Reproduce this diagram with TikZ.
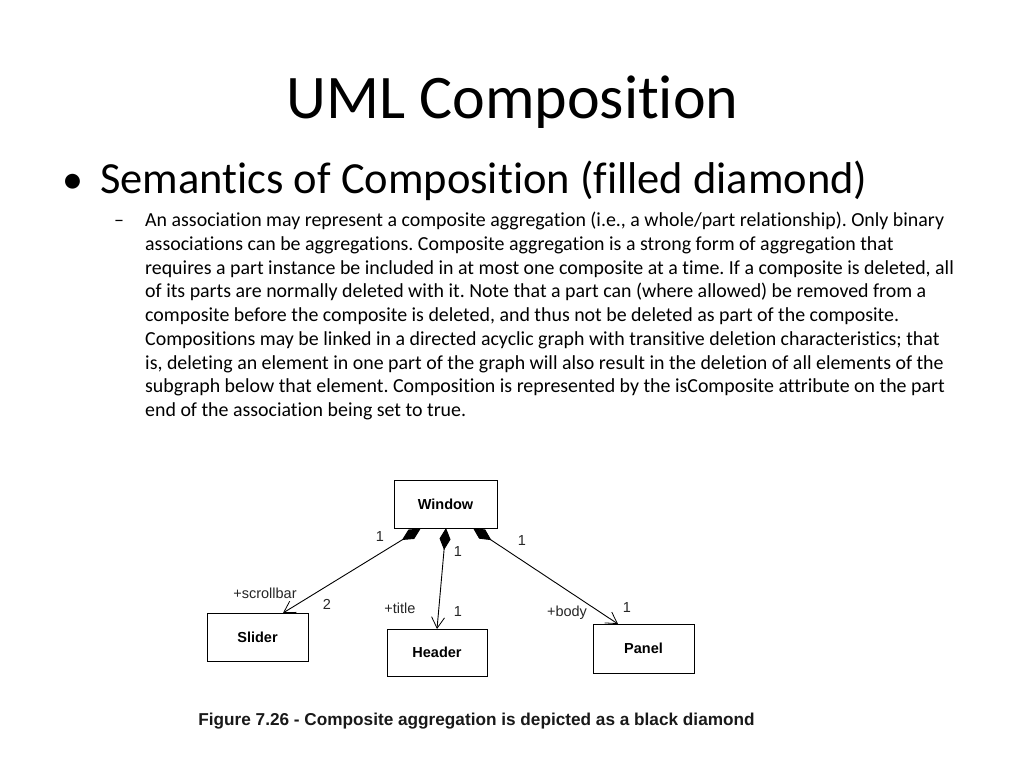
\documentclass[tikz,border=0pt]{standalone}
\usepackage{fontspec}
\setmainfont{Carlito}[Ligatures={NoCommon,NoContextual}, Contextuals=NoAlternate]
\newfontfamily\arialf{Liberation Sans}
\usetikzlibrary{arrows.meta}
\frenchspacing
\tikzset{
  umlbox/.style={draw=black, line width=1pt, fill=white, inner sep=0pt},
  comp/.style={draw=black, line width=0.9pt,
    {Diamond[length=22pt,width=11pt,fill=black]}-{Straight Barb[length=11pt,width=13pt,line width=0.8pt]}},
  lbl/.style={font=\arialf\fontsize{14.5}{16}\selectfont, inner sep=0pt, text=black!85},
  bodyline/.style={anchor=base west, inner sep=0pt, font=\fontsize{19.9}{24}\selectfont}
}
\begin{document}
\begin{tikzpicture}[x=1pt,y=-1pt]
\useasboundingbox (0,0) rectangle (1024,768);
\fill[white] (0,0) rectangle (1024,768);
% title
\node[anchor=base, inner sep=0pt, font=\fontsize{62}{70}\selectfont] (title) at (512.5,118) {UML Composition};
% bullet
\node[anchor=base west, inner sep=0pt, font=\fontsize{42}{50}\selectfont] (bul) at (62,193) {•};
\node[anchor=base west, inner sep=0pt, font=\fontsize{44.5}{50}\selectfont] (sem) at (100,193) {Semantics of Composition (filled diamond)};
\node[bodyline] (dash) at (114,226.7) {–};
\node[bodyline] (l1) at (145,226.7) {An association may represent a composite aggregation (i.e., a whole/part relationship). Only binary};
\node[bodyline] (l2) at (145,250.45) {associations can be aggregations. Composite aggregation is a strong form of aggregation that};
\node[bodyline] (l3) at (145,274.2) {requires a part instance be included in at most one composite at a time. If a composite is deleted, all};
\node[bodyline] (l4) at (145,297.95) {of its parts are normally deleted with it. Note that a part can (where allowed) be removed from a};
\node[bodyline] (l5) at (145,321.7) {composite before the composite is deleted, and thus not be deleted as part of the composite.};
\node[bodyline] (l6) at (145,345.45) {Compositions may be linked in a directed acyclic graph with transitive deletion characteristics; that};
\node[bodyline] (l7) at (145,369.2) {is, deleting an element in one part of the graph will also result in the deletion of all elements of the};
\node[bodyline] (l8) at (145,392.95) {subgraph below that element. Composition is represented by the isComposite attribute on the part};
\node[bodyline] (l9) at (145,416.7) {end of the association being set to true.};
% diagram boxes
\node[umlbox, minimum width=103pt, minimum height=48pt, font=\arialf\bfseries\fontsize{14.5}{16}\selectfont] (window) at (445.5,504) {Window};
\node[umlbox, minimum width=101pt, minimum height=48pt, font=\arialf\bfseries\fontsize{14.5}{16}\selectfont] (slider) at (257.5,637) {Slider};
\node[umlbox, minimum width=100pt, minimum height=47pt, font=\arialf\bfseries\fontsize{14.5}{16}\selectfont] (header) at (437,652.5) {Header};
\node[umlbox, minimum width=101pt, minimum height=49pt, font=\arialf\bfseries\fontsize{14.5}{16}\selectfont] (panel) at (643.5,648.5) {Panel};
% connector end points on the boxes
\coordinate (ws) at (420.7,528.5);
\coordinate (wh) at (446,528);
\coordinate (wp) at (473,528);
\coordinate (se) at (283,613);
\coordinate (he) at (437,629);
\coordinate (pe) at (618,624);
\draw[comp] (ws) -- (se);
\draw[comp] (wh) -- (he);
\draw[comp] (wp) -- (pe);
% labels
\node[lbl] (m1) at (380,537) {1};
\node[lbl] (m2) at (458,552) {1};
\node[lbl] (m3) at (522,541) {1};
\node[lbl] (r1) at (265,593) {+scrollbar};
\node[lbl] (m4) at (327,604) {2};
\node[lbl] (r2) at (400,608) {+title};
\node[lbl] (m5) at (458,612) {1};
\node[lbl] (r3) at (567,613) {+body};
\node[lbl] (m6) at (627,608) {1};
% caption
\node[inner sep=0pt, font=\arialf\bfseries\fontsize{17.2}{20}\selectfont, text=black!90] (cap) at (476.5,721) {Figure 7.26 - Composite aggregation is depicted as a black diamond};
\end{tikzpicture}
\end{document}
